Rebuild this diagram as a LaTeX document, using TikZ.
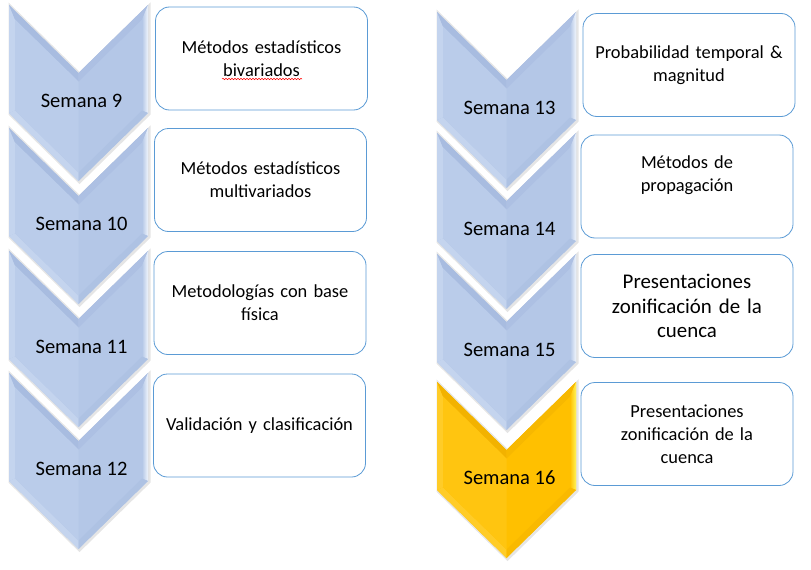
\documentclass[tikz,border=0pt]{standalone}
\usepackage{fontspec}
\setmainfont{Carlito}
\usetikzlibrary{decorations.pathmorphing}

\definecolor{basesky}{RGB}{180,199,231}
\definecolor{litesky}{RGB}{196,212,238}
\definecolor{darksky}{RGB}{168,188,224}
\definecolor{hisky}{RGB}{240,245,252}
\definecolor{basegold}{RGB}{255,192,0}
\definecolor{litegold}{RGB}{255,204,40}
\definecolor{darkgold}{RGB}{242,178,0}
\definecolor{higold}{RGB}{255,245,90}
\definecolor{boxline}{RGB}{91,155,213}

\begin{document}
\begin{tikzpicture}[x=1pt,y=-1pt,
  weekbox/.style={draw=boxline, line width=0.8pt, rounded corners=14pt, fill=white,
    minimum width=212pt, minimum height=103pt, text width=200pt, align=center,
    inner sep=0pt, font=\fontsize{18.4}{23}\selectfont},
  weeklabel/.style={inner sep=0pt, font=\fontsize{20.5}{24}\selectfont}]
  \useasboundingbox (0,0) rectangle (811,570);

  % chevrons
  \foreach \px/\py/\cc/\wk in {9/5/sky/9, 9/128/sky/10, 9/251/sky/11, 9/373/sky/12,
      437/12/sky/13, 437/133/sky/14, 437/254/sky/15, 437/382/gold/16}{
    \begin{scope}[shift={(\px,\py)}]
      \draw[black!40, line width=3pt, opacity=0.25] (1,1) -- (70.5,69) -- (140,1) -- (140,109) -- (70.5,177) -- (1,109) -- cycle;
      \fill[base\cc] (0,0) -- (69.5,68) -- (139,0) -- (139,108) -- (69.5,176) -- (0,108) -- cycle;
      \fill[lite\cc] (0,0) -- (6,14.5) -- (6,105.5) -- (0,108) -- cycle;
      \fill[dark\cc] (0,0) -- (69.5,68) -- (69.5,76.5) -- (6,14.5) -- cycle;
      \fill[dark\cc!60!base\cc] (139,0) -- (69.5,68) -- (69.5,76.5) -- (133,14.5) -- cycle;
      \shade[left color=base\cc, right color=hi\cc] (133,14.5) -- (139,0) -- (139,108) -- (133,105.5) -- cycle;
      \fill[lite\cc] (0,108) -- (69.5,176) -- (69.5,167.5) -- (6,105.5) -- cycle;
      \fill[dark\cc!50!base\cc] (139,108) -- (69.5,176) -- (69.5,167.5) -- (133,105.5) -- cycle;
      \fill[lite\cc!40!base\cc] (6,14.5) -- (69.5,76.5) -- (69.5,167.5) -- (6,105.5) -- cycle;
      \node[weeklabel] (w\wk) at (72.5,96) {Semana \wk};
    \end{scope}
  }

  % topics
  \node[weekbox] (t9) at (261.5,58.5) {Métodos estadísticos\\bivariados};
  \node[weekbox] (t10) at (260.5,180) {Métodos estadísticos\\multivariados};
  \node[weekbox] (t11) at (260,303) {Metodologías con base\\física};
  \node[weekbox] (t12) at (259.5,425.5) {Validación y clasificación};
  \node[weekbox] (t13) at (689,65) {Probabilidad temporal \&\\magnitud};
  \node[weekbox, text depth=49pt] (t14) at (687,186.5) {Métodos de\\propagación};
  \node[weekbox, font=\fontsize{20.9}{24.5}\selectfont] (t15) at (687,306) {Presentaciones\\zonificación de la\\cuenca};
  \node[weekbox] (t16) at (687,434) {Presentaciones\\zonificación de la\\cuenca};

  \draw[red, line width=0.5pt, decorate, decoration={snake, amplitude=0.7pt, segment length=3pt}] (222,79) -- (302,79);
\end{tikzpicture}
\end{document}
